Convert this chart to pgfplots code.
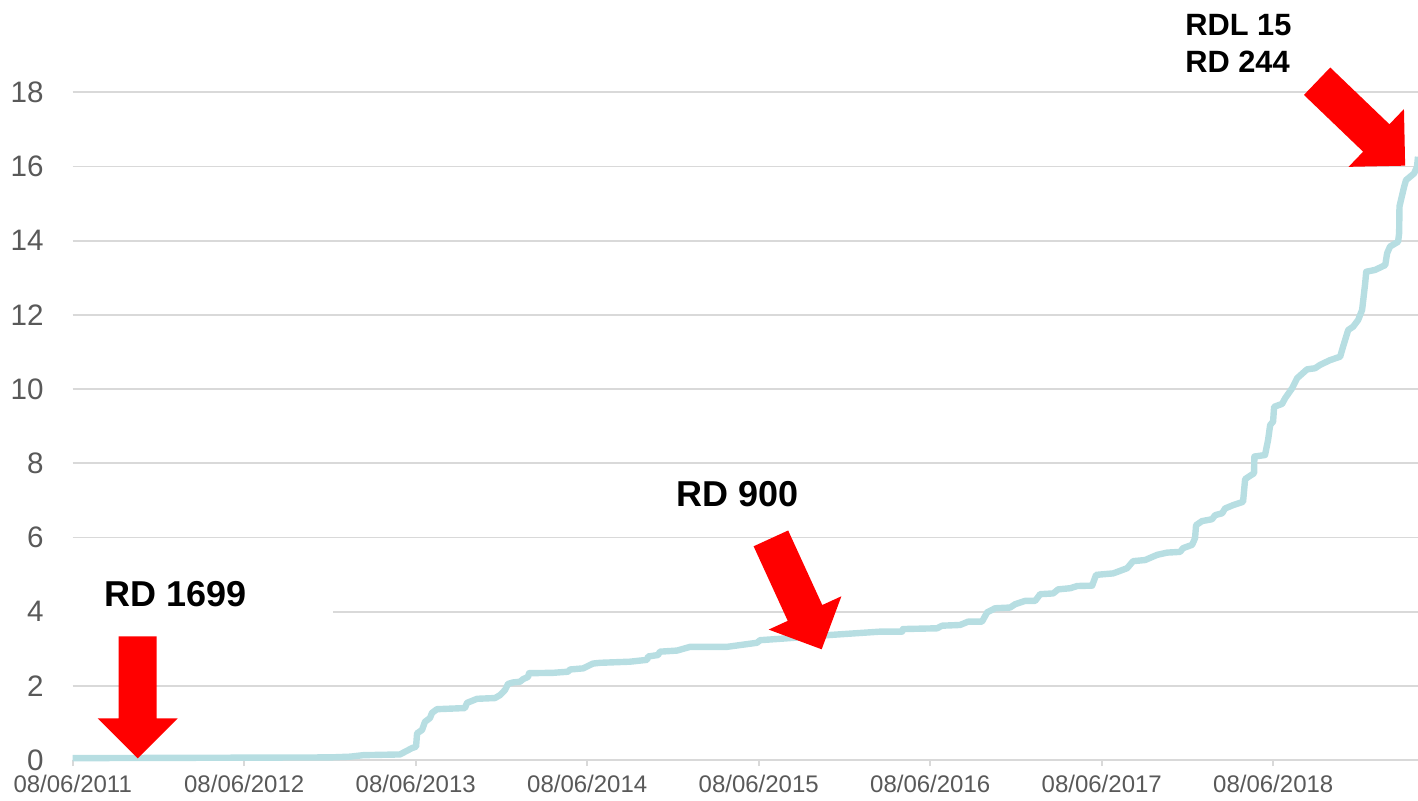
\documentclass[border=0pt]{standalone}
\usepackage{pgfplots}
\pgfplotsset{compat=1.18}
\usepackage{fontspec}
\setmainfont{Liberation Sans}
\definecolor{curve}{RGB}{183,222,226}
\definecolor{gridc}{RGB}{217,217,217}
\definecolor{ticktext}{RGB}{89,89,89}
\newcommand\redarrow[2]{%
  \fill[red, shift={(#1)}, rotate=#2] (0,0) -- (-20pt,20pt) -- (-20pt,9.5pt) -- (-61pt,9.5pt) -- (-61pt,-9.5pt) -- (-20pt,-9.5pt) -- (-20pt,-20pt) -- cycle;}
\begin{document}
\begin{tikzpicture}
\path[use as bounding box] (-36.35pt,-20pt) rectangle (672.65pt,380pt);
\begin{axis}[
  at={(0,0)}, anchor=south west,
  scale only axis, width=672.65pt, height=371pt,
  xmin=0, xmax=7.844, ymin=0, ymax=20,
  clip=false,
  axis x line=bottom, axis y line=left,
  x axis line style={-, draw=gridc, line width=0.9pt},
  y axis line style={draw=none},
  ymajorgrids, grid style={draw=gridc, line width=0.9pt},
  ytick={0,2,...,18},
  xtick={0,1,...,7},
  xticklabels={08/06/2011,08/06/2012,08/06/2013,08/06/2014,08/06/2015,08/06/2016,08/06/2017,08/06/2018},
  tick align=outside, major tick length=3pt,
  xtick style={draw=gridc, line width=0.9pt},
  ytick style={draw=none},
  /pgf/number format/assume math mode=true,
  xticklabel style={font=\fontsize{12}{14}\selectfont, text=ticktext, yshift=-3pt, inner sep=1.5pt},
  yticklabel style={font=\fontsize{14.8}{16}\selectfont, text=ticktext, anchor=east, xshift=-8pt},
]
\addplot[curve, line width=3.2pt, line join=round] coordinates {
(0,0.05) (1.5,0.07) (1.617,0.09) (1.693,0.13) (1.908,0.15) (1.978,0.32) (2.002,0.36) (2.008,0.72) (2.037,0.81) (2.054,1.03) (2.083,1.13) (2.095,1.27) (2.124,1.37) (2.287,1.40) (2.299,1.54) (2.358,1.65) (2.462,1.67) (2.492,1.75) (2.521,1.89) (2.538,2.05) (2.567,2.09) (2.608,2.11) (2.626,2.18) (2.655,2.24) (2.661,2.34) (2.801,2.35) (2.888,2.38) (2.900,2.44) (2.976,2.47) (3.034,2.60) (3.075,2.62) (3.249,2.65) (3.349,2.70) (3.355,2.79) (3.413,2.83) (3.424,2.92) (3.524,2.95) (3.600,3.05) (3.815,3.05) (3.990,3.16) (4.008,3.23) (4.165,3.28) (4.416,3.37) (4.707,3.46) (4.836,3.46) (4.841,3.53) (5.040,3.55) (5.069,3.62) (5.174,3.64) (5.221,3.73) (5.302,3.73) (5.332,3.98) (5.378,4.09) (5.466,4.11) (5.495,4.20) (5.554,4.29) (5.612,4.29) (5.641,4.47) (5.717,4.49) (5.746,4.60) (5.816,4.63) (5.857,4.69) (5.944,4.70) (5.967,4.99) (6.067,5.03) (6.148,5.17) (6.183,5.36) (6.253,5.39) (6.323,5.53) (6.381,5.59) (6.457,5.61) (6.474,5.71) (6.527,5.80) (6.544,5.98) (6.550,6.33) (6.585,6.44) (6.643,6.49) (6.661,6.60) (6.702,6.65) (6.719,6.78) (6.766,6.87) (6.824,6.96) (6.836,7.57) (6.865,7.66) (6.888,7.73) (6.890,8.18) (6.952,8.22) (6.970,8.63) (6.982,9.03) (6.999,9.12) (7.005,9.52) (7.052,9.60) (7.069,9.75) (7.110,10.02) (7.139,10.29) (7.197,10.53) (7.244,10.56) (7.273,10.65) (7.332,10.78) (7.390,10.87) (7.407,11.14) (7.437,11.59) (7.466,11.68) (7.495,11.86) (7.518,12.13) (7.536,12.85) (7.542,13.16) (7.594,13.21) (7.653,13.34) (7.664,13.66) (7.681,13.84) (7.728,13.97) (7.734,14.20) (7.736,14.92) (7.745,15.10) (7.763,15.45) (7.774,15.63) (7.821,15.81) (7.838,15.99) (7.844,16.26)
};
\fill[white] (axis cs:-0.02,3.75) rectangle (axis cs:1.518,4.6);
\node[anchor=base, inner sep=0pt, font=\fontsize{18}{20}\selectfont\bfseries] at (axis cs:0.600,4.132) {RD 1699};
\node[anchor=base, inner sep=0pt, font=\fontsize{18}{20}\selectfont\bfseries] at (axis cs:3.879,6.827) {RD 900};
\node[anchor=base west, inner sep=0pt, font=\fontsize{15.4}{18}\selectfont\bfseries] at (axis cs:6.485,19.54) {RDL 15};
\node[anchor=base west, inner sep=0pt, font=\fontsize{15.4}{18}\selectfont\bfseries] at (axis cs:6.485,18.53) {RD 244};
\coordinate (a1) at (axis cs:0.379,0.046);
\coordinate (a2) at (axis cs:4.367,2.984);
\coordinate (a3) at (axis cs:7.769,16.02);
\end{axis}
\redarrow{a1}{-90}
\redarrow{a2}{-65.4}
\redarrow{a3}{-43.8}
\end{tikzpicture}
\end{document}
